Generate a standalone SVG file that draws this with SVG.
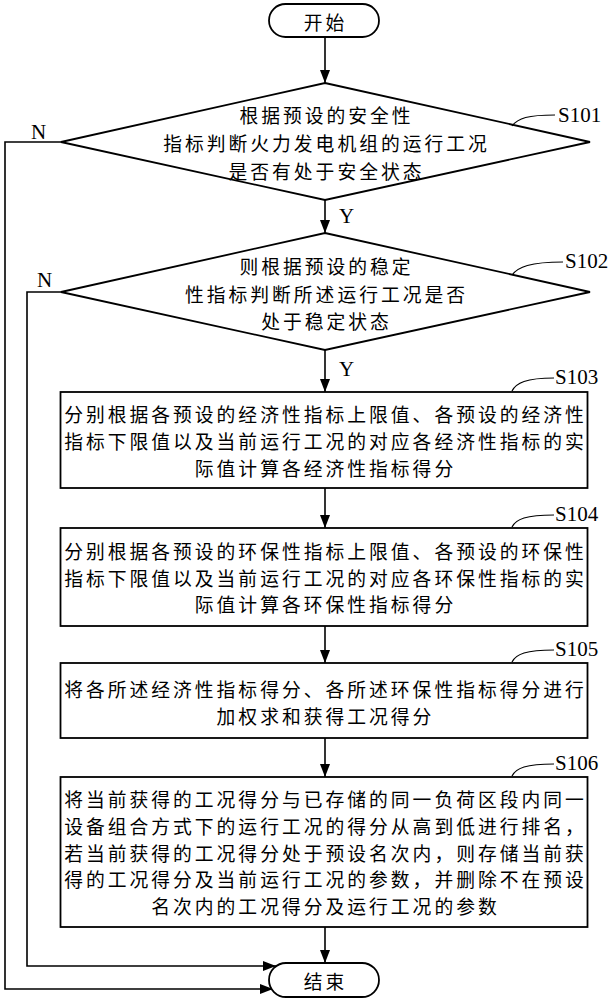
<svg xmlns="http://www.w3.org/2000/svg" width="611" height="1000" viewBox="0 0 611 1000">
<style>
.sh{fill:#fff;stroke:#000;stroke-width:1.8}
.t{font-family:"Noto Sans CJK SC","Noto Sans CJK JP",sans-serif;font-size:18.8px;letter-spacing:3px;fill:#000;text-anchor:middle;dominant-baseline:central}
.l{font-family:"Liberation Serif",serif;font-size:21px;fill:#000;dominant-baseline:central}
.c{fill:none;stroke:#000;stroke-width:1.6}
.cl{fill:none;stroke:#000;stroke-width:1.2}
</style>
<defs>
<marker id="ah" markerWidth="13" markerHeight="10" refX="13" refY="5" orient="auto" markerUnits="userSpaceOnUse">
<path d="M0,0 L13,5 L0,10 Z" fill="#000"/>
</marker>
</defs>
<g id="connectors">
<line class="c" x1="325" y1="37" x2="325" y2="83" marker-end="url(#ah)"/>
<line class="c" x1="325" y1="200" x2="325" y2="233" marker-end="url(#ah)"/>
<line class="c" x1="325" y1="350" x2="325" y2="392" marker-end="url(#ah)"/>
<line class="c" x1="325" y1="488" x2="325" y2="528" marker-end="url(#ah)"/>
<line class="c" x1="325" y1="626" x2="325" y2="663" marker-end="url(#ah)"/>
<line class="c" x1="325" y1="738" x2="325" y2="777" marker-end="url(#ah)"/>
<line class="c" x1="325" y1="927" x2="325" y2="963" marker-end="url(#ah)"/>
<polyline class="c" points="61,142 5,142 5,989 273,989" marker-end="url(#ah)"/>
<polyline class="c" points="61,292 27,292 27,966 276,966" marker-end="url(#ah)"/>
<text class="l" x="31" y="132">N</text>
<text class="l" x="37" y="280">N</text>
<text class="l" x="339" y="216">Y</text>
<text class="l" x="339" y="369">Y</text>
</g>
<g id="start">
<rect class="sh" x="269" y="4" width="110" height="33" rx="16.5"/>
<text class="t" x="325.5" y="21">开始</text>
</g>
<g id="S101">
<polygon class="sh" points="325,83 590,142 325,200 61,142"/>
<text class="t" x="326.5" y="114">根据预设的安全性</text>
<text class="t" x="326.5" y="142">指标判断火力发电机组的运行工况</text>
<text class="t" x="326.5" y="170">是否有处于安全状态</text>
<path class="cl" d="M512,126 C518,118 528,115 555,115"/>
<text class="l" x="558" y="115">S101</text>
</g>
<g id="S102">
<polygon class="sh" points="325,233 590,292 325,350 61,292"/>
<text class="t" x="326.5" y="265">则根据预设的稳定</text>
<text class="t" x="326.5" y="293">性指标判断所述运行工况是否</text>
<text class="t" x="326.5" y="320">处于稳定状态</text>
<path class="cl" d="M512,275 C518,267 530,262 563,262"/>
<text class="l" x="565" y="261">S102</text>
</g>
<g id="S103">
<rect class="sh" x="60.5" y="392" width="527" height="96"/>
<text class="t" x="325.5" y="413">分别根据各预设的经济性指标上限值、各预设的经济性</text>
<text class="t" x="325.5" y="440">指标下限值以及当前运行工况的对应各经济性指标的实</text>
<text class="t" x="325.5" y="467">际值计算各经济性指标得分</text>
<path class="cl" d="M512,391 C516,383 526,378 554,378"/>
<text class="l" x="555" y="377">S103</text>
</g>
<g id="S104">
<rect class="sh" x="60.5" y="528" width="527" height="98"/>
<text class="t" x="325.5" y="550">分别根据各预设的环保性指标上限值、各预设的环保性</text>
<text class="t" x="325.5" y="577">指标下限值以及当前运行工况的对应各环保性指标的实</text>
<text class="t" x="325.5" y="603">际值计算各环保性指标得分</text>
<path class="cl" d="M512,527 C516,519 526,515 554,515"/>
<text class="l" x="555" y="514">S104</text>
</g>
<g id="S105">
<rect class="sh" x="60.5" y="663" width="527" height="75"/>
<text class="t" x="325.5" y="688">将各所述经济性指标得分、各所述环保性指标得分进行</text>
<text class="t" x="325.5" y="715">加权求和获得工况得分</text>
<path class="cl" d="M512,662 C516,654 526,650 554,650"/>
<text class="l" x="555" y="649">S105</text>
</g>
<g id="S106">
<rect class="sh" x="60.5" y="777" width="527" height="150"/>
<text class="t" x="325.5" y="798">将当前获得的工况得分与已存储的同一负荷区段内同一</text>
<text class="t" x="325.5" y="825">设备组合方式下的运行工况的得分从高到低进行排名，</text>
<text class="t" x="325.5" y="852">若当前获得的工况得分处于预设名次内，则存储当前获</text>
<text class="t" x="325.5" y="878">得的工况得分及当前运行工况的参数，并删除不在预设</text>
<text class="t" x="325.5" y="905">名次内的工况得分及运行工况的参数</text>
<path class="cl" d="M512,776 C516,768 526,764 554,764"/>
<text class="l" x="555" y="763">S106</text>
</g>
<g id="end">
<rect class="sh" x="269" y="963" width="110" height="34" rx="17"/>
<text class="t" x="325.5" y="980">结束</text>
</g>
</svg>
